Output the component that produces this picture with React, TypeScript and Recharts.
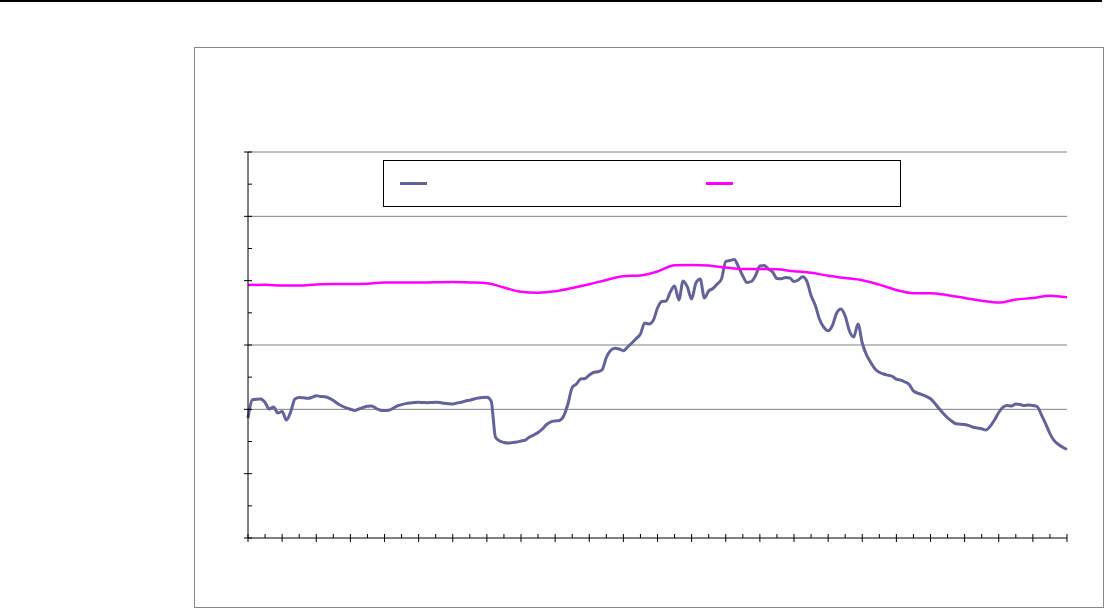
import React from "react";
import { LineChart, Line, XAxis, YAxis, CartesianGrid, Legend } from "recharts";

// Series values (no axis labels in the source, so units are relative: 0..60)
const seriesNames = ["Series 1", "Series 2"];

// dark blue series, 193 samples across the axis
const blueValues = [
  18.65, 21.45, 21.58, 21.61, 21.06, 20.05, 20.36, 19.43, 19.66, 18.34,
  19.59, 21.61, 21.84, 21.79, 21.72, 21.86, 22.12, 22.0, 21.95, 21.76,
  21.37, 20.91, 20.52, 20.24, 20.02, 19.82, 20.05, 20.29, 20.49, 20.52,
  20.15, 19.87, 19.8, 19.85, 20.16, 20.52, 20.74, 20.89, 20.99, 21.06,
  21.09, 21.06, 21.03, 21.06, 21.09, 21.05, 20.95, 20.88, 20.83, 20.99,
  21.11, 21.3, 21.42, 21.61, 21.76, 21.84, 21.87, 21.3, 15.7, 15.08,
  14.85, 14.77, 14.83, 14.92, 15.08, 15.23, 15.7, 16.01, 16.4, 16.94,
  17.64, 18.06, 18.19, 18.27, 18.96, 20.83, 23.4, 23.94, 24.72, 24.79,
  25.34, 25.73, 25.85, 26.12, 28.06, 29.15, 29.49, 29.38, 29.12, 29.69,
  30.31, 31.01, 31.71, 33.42, 33.27, 33.81, 35.75, 36.76, 36.84, 38.24,
  39.17, 37.0, 39.95, 39.02, 37.15, 39.64, 40.26, 37.31, 38.4, 38.78,
  39.48, 40.26, 42.98, 43.14, 43.29, 42.13, 40.73, 39.72, 39.87, 40.81,
  42.28, 42.36, 41.82, 41.35, 40.34, 40.29, 40.49, 40.42, 39.87, 40.11,
  40.6, 39.95, 37.7, 36.14, 33.97, 32.75, 32.22, 33.03, 34.98, 35.6,
  34.51, 32.18, 31.25, 33.27, 30.31, 28.45, 27.28, 26.27, 25.76, 25.49,
  25.31, 25.14, 24.69, 24.53, 24.25, 23.86, 22.87, 22.51, 22.28, 22.0,
  21.64, 20.95, 20.12, 19.35, 18.69, 18.16, 17.75, 17.69, 17.63, 17.47,
  17.21, 17.1, 16.98, 16.79, 17.38, 18.34, 19.51, 20.33, 20.61, 20.52,
  20.83, 20.75, 20.58, 20.66, 20.61, 20.44, 19.14, 17.75, 16.23, 15.13,
  14.53, 14.11, 13.76,
];

// magenta series, one sample per minor tick (49 samples)
const pinkValues = [
  39.33, 39.36, 39.25, 39.25, 39.41, 39.48, 39.48, 39.53, 39.73, 39.7,
  39.72, 39.75, 39.8, 39.72, 39.61, 38.94, 38.27, 38.13, 38.35, 38.86,
  39.45, 40.11, 40.68, 40.81, 41.43, 42.41, 42.44, 42.34, 42.05, 41.82,
  41.82, 41.77, 41.46, 41.23, 40.76, 40.42, 40.06, 39.38, 38.55, 38.04,
  38.04, 37.74, 37.31, 36.87, 36.59, 37.07, 37.31, 37.67, 37.42,
];

const PINK_STEP = 4; // pink samples sit on every 4th blue sample
const xTicks = pinkValues.map((_, k) => k * PINK_STEP);
const yTicks = [0, 5, 10, 15, 20, 25, 30, 35, 40, 45, 50, 55, 60];
const gridValues = [20, 30, 50, 60];

const blueData = blueValues.map((v, i) => ({ x: i, v }));
const pinkData = pinkValues.map((v, k) => ({ x: k * PINK_STEP, v }));

const BLUE = "#63639B";
const PINK = "#FF00FF";

const XTick = (props: any) => {
  const { x, y, payload } = props;
  const major = (payload.value / PINK_STEP) % 2 === 0;
  return <line x1={x} x2={x} y1={y - 4} y2={major ? y + 4 : y} stroke="#000" strokeWidth={1} />;
};

const YTick = (props: any) => {
  const { x, y, payload } = props;
  const major = payload.value % 10 === 0;
  return <line x1={major ? x - 4 : x} x2={x + 4} y1={y} y2={y} stroke="#000" strokeWidth={1} />;
};

const renderLegend = (props: any) => {
  const { payload = [] } = props;
  const offsets = [16, 322];
  return (
    <div
      style={{
        width: 518,
        height: 47,
        border: "1px solid #000",
        boxSizing: "border-box",
        position: "relative",
        background: "#fff",
      }}
    >
      {payload.map((p: any, i: number) => (
        <div
          key={`leg-${i}`}
          style={{ position: "absolute", left: offsets[i], top: 21, width: 27, height: 3, background: p.color }}
        />
      ))}
    </div>
  );
};

export default function App() {
  return (
    <div style={{ position: "absolute", left: 0, top: 0, width: 1112, height: 609, background: "#fff" }}>
      <div style={{ position: "absolute", left: 0, top: 0, width: 1102, height: 2, background: "#000" }} />
      <div
        style={{
          position: "absolute",
          left: 194,
          top: 47,
          width: 910,
          height: 561,
          border: "1px solid #888",
          boxSizing: "border-box",
        }}
      />
      <LineChart width={1112} height={609} margin={{ top: 152, right: 45, bottom: 70, left: 247 }}>
        <CartesianGrid vertical={false} horizontalValues={gridValues} stroke="#808080" />
        <XAxis
          dataKey="x"
          type="number"
          domain={[0, 192]}
          ticks={xTicks}
          height={1}
          tickSize={0}
          tickMargin={0}
          tickLine={false}
          tick={XTick}
          interval={0}
          axisLine={{ stroke: "#000" }}
        />
        <YAxis
          type="number"
          domain={[0, 60]}
          ticks={yTicks}
          width={1}
          tickSize={0}
          tickMargin={0}
          tickLine={false}
          tick={YTick}
          interval={0}
          axisLine={{ stroke: "#000" }}
        />
        <Legend
          layout="horizontal"
          verticalAlign="middle"
          align="center"
          content={renderLegend}
          wrapperStyle={{ position: "absolute", left: 383, top: 160, width: 518, height: 47 }}
        />
        <Line
          data={blueData}
          dataKey="v"
          name={seriesNames[0]}
          type="monotone"
          stroke={BLUE}
          strokeWidth={3}
          dot={false}
          isAnimationActive={false}
        />
        <Line
          data={pinkData}
          dataKey="v"
          name={seriesNames[1]}
          type="monotone"
          stroke={PINK}
          strokeWidth={2.5}
          dot={false}
          isAnimationActive={false}
        />
      </LineChart>
    </div>
  );
}
